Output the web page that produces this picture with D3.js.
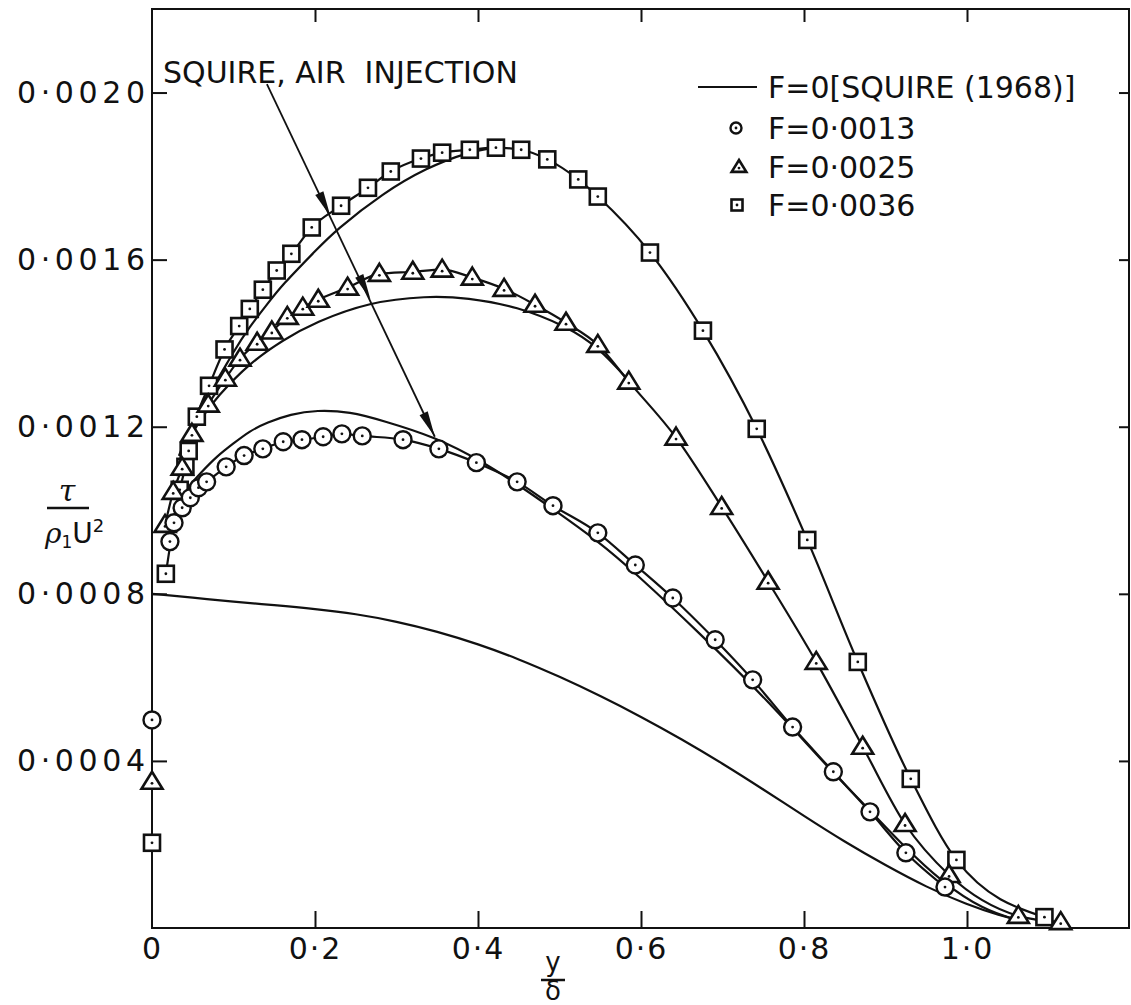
<!DOCTYPE html>
<html>
<head>
<meta charset="utf-8">
<script src="https://cdn.jsdelivr.net/npm/d3@7"></script>
<style>
  body { margin: 0; background: #fff; }
  svg { display: block; font-family: "DejaVu Sans", sans-serif; }
</style>
</head>
<body>
<svg id="chart" width="1131" height="1005"></svg>
<script>
// tick values and labels
const xTicks = [0, 0.2, 0.4, 0.6, 0.8, 1.0];
const xTickLabels = ['0', '0·2', '0·4', '0·6', '0·8', '1·0'];
const yTicks = [0.0004, 0.0008, 0.0012, 0.0016, 0.0020];
const yTickLabels = ['0·0004', '0·0008', '0·0012', '0·0016', '0·0020'];

// F = 0, Squire (1968)
const f0Curve = [
  [0, 0.00080], [0.05, 0.000791], [0.10, 0.000781], [0.15, 0.000773], [0.20, 0.000764],
  [0.25, 0.000752], [0.30, 0.000734], [0.35, 0.000710], [0.40, 0.000680], [0.45, 0.000644],
  [0.50, 0.000602], [0.55, 0.000556], [0.60, 0.000506], [0.65, 0.000452], [0.70, 0.000394],
  [0.75, 0.000332], [0.80, 0.000268], [0.85, 0.000206], [0.90, 0.000150], [0.95, 0.000098],
  [1.00, 0.000056], [1.04, 0.000030], [1.07, 0.000016]
];

// F = 0.0013 (circles)
const f13Wall = [0, 0.000498];
const f13Points = [
  [0.022, 0.000925], [0.027, 0.000970], [0.037, 0.001006], [0.047, 0.001030], [0.057, 0.001054],
  [0.067, 0.001068], [0.091, 0.001104], [0.113, 0.001131], [0.136, 0.001147], [0.161, 0.001164],
  [0.184, 0.001169], [0.210, 0.001176], [0.233, 0.001183], [0.258, 0.001178], [0.308, 0.001169],
  [0.352, 0.001147], [0.398, 0.001114], [0.448, 0.001068], [0.492, 0.001011], [0.547, 0.000946],
  [0.593, 0.000869], [0.639, 0.000790], [0.691, 0.000690], [0.737, 0.000594], [0.786, 0.000481],
  [0.836, 0.000374], [0.881, 0.000278], [0.925, 0.000180], [0.973, 0.000098]
];
const f13Theory = [
  [0.028, 0.00100], [0.044, 0.001056], [0.060, 0.00109], [0.080, 0.00113], [0.100, 0.00116],
  [0.120, 0.00119], [0.141, 0.00121], [0.170, 0.00123], [0.202, 0.001240], [0.243, 0.001236],
  [0.284, 0.001214], [0.347, 0.001176], [0.406, 0.001116], [0.450, 0.00106], [0.492, 0.001003],
  [0.550, 0.000922], [0.590, 0.000855], [0.672, 0.000706], [0.755, 0.000546], [0.836, 0.000370],
  [0.877, 0.000290], [0.920, 0.000200], [0.970, 0.000108], [1.020, 0.000044], [1.060, 0.000020]
];

// F = 0.0025 (triangles)
const f25Wall = [0, 0.000350];
const f25Points = [
  [0.016, 0.000965], [0.026, 0.001044], [0.037, 0.001102], [0.049, 0.001183], [0.069, 0.001253],
  [0.090, 0.001315], [0.108, 0.001363], [0.129, 0.001401], [0.147, 0.001428], [0.166, 0.001463],
  [0.185, 0.001485], [0.204, 0.001504], [0.240, 0.001533], [0.279, 0.001566], [0.320, 0.001571],
  [0.356, 0.001576], [0.393, 0.001557], [0.432, 0.001530], [0.470, 0.001492], [0.508, 0.001449],
  [0.547, 0.001396], [0.585, 0.001308], [0.643, 0.001174], [0.699, 0.001008], [0.756, 0.000829],
  [0.815, 0.000637], [0.872, 0.000434], [0.924, 0.000249], [0.978, 0.000127], [1.063, 0.000029],
  [1.115, 0.000014]
];
const f25Theory = [
  [0.028, 0.00109], [0.045, 0.00117], [0.059, 0.001217], [0.080, 0.001272], [0.120, 0.001353],
  [0.161, 0.001408], [0.200, 0.00145], [0.267, 0.001499], [0.337, 0.001513], [0.387, 0.001509],
  [0.448, 0.001488], [0.509, 0.001440], [0.547, 0.001392], [0.585, 0.001310]
];

// F = 0.0036 (squares)
const f36Wall = [0, 0.000204];
const f36Points = [
  [0.017, 0.000848], [0.034, 0.001049], [0.041, 0.001104], [0.045, 0.001142], [0.055, 0.001224],
  [0.070, 0.001298], [0.089, 0.001385], [0.107, 0.001441], [0.120, 0.001482], [0.136, 0.001528],
  [0.153, 0.001574], [0.171, 0.001614], [0.196, 0.001677], [0.232, 0.001729], [0.265, 0.001772],
  [0.293, 0.001811], [0.330, 0.001842], [0.356, 0.001856], [0.390, 0.001863], [0.422, 0.001868],
  [0.453, 0.001863], [0.485, 0.001840], [0.523, 0.001792], [0.547, 0.001751], [0.611, 0.001617],
  [0.676, 0.001430], [0.742, 0.001195], [0.804, 0.000929], [0.866, 0.000637], [0.931, 0.000357],
  [0.987, 0.000163], [1.095, 0.000026]
];
const f36Theory = [
  [0.033, 0.00113], [0.047, 0.00120], [0.059, 0.00125], [0.080, 0.00131], [0.100, 0.00138],
  [0.120, 0.00144], [0.140, 0.00149], [0.160, 0.00154], [0.200, 0.00162], [0.225, 0.00167],
  [0.284, 0.00176], [0.337, 0.00182], [0.387, 0.001857], [0.420, 0.001868]
];

// annotation arrow: start under the text, heads on the three theory curves
const arrowStart = [0.141, 0.00202];
const arrowTips = [[0.219, 0.001703], [0.268, 0.001505], [0.347, 0.001176]];

const legendLabels = ['F=0[SQUIRE (1968)]', 'F=0·0013', 'F=0·0025', 'F=0·0036'];

const ink = '#111';
const svg = d3.select('#chart');

const x = d3.scaleLinear().domain([0, 1.2]).range([152, 1130]);
const y = d3.scaleLinear().domain([0, 0.0022]).range([928, 9]);

// frame
svg.append('rect')
  .attr('x', x(0)).attr('y', y(0.0022))
  .attr('width', x(1.2) - x(0) - 1).attr('height', y(0) - y(0.0022))
  .attr('fill', 'none').attr('stroke', ink).attr('stroke-width', 2);

// axes
const xAxis = svg.append('g')
  .attr('transform', `translate(0,${y(0)})`)
  .call(d3.axisBottom(x).tickValues(xTicks).tickFormat((d, i) => xTickLabels[i])
    .tickSizeInner(-17).tickSizeOuter(0).tickPadding(10));
xAxis.select('.domain').remove();
xAxis.selectAll('.tick').filter(d => d === 0).select('line').remove();

const yAxis = svg.append('g')
  .attr('transform', `translate(${x(0)},0)`)
  .call(d3.axisLeft(y).tickValues(yTicks).tickFormat((d, i) => yTickLabels[i])
    .tickSizeInner(-15).tickSizeOuter(0).tickPadding(7));
yAxis.select('.domain').remove();

svg.append('g')
  .attr('transform', `translate(0,${y(0.0022)})`)
  .call(d3.axisTop(x).tickValues(xTicks.slice(1)).tickFormat('').tickSizeInner(-13).tickSizeOuter(0))
  .select('.domain').remove();

svg.append('g')
  .attr('transform', `translate(${x(1.2) - 1},0)`)
  .call(d3.axisRight(y).tickValues(yTicks).tickFormat('').tickSizeInner(-10).tickSizeOuter(0))
  .select('.domain').remove();

svg.selectAll('.tick line').attr('stroke', ink).attr('stroke-width', 2);
svg.selectAll('.tick text')
  .attr('fill', ink)
  .attr('font-size', 30)
  .attr('font-family', '"DejaVu Sans", sans-serif');
yAxis.selectAll('.tick text').attr('textLength', 128).attr('lengthAdjust', 'spacing');
xAxis.selectAll('.tick text').attr('letter-spacing', 2);

// curves
const smooth = d3.line().x(d => x(d[0])).y(d => y(d[1])).curve(d3.curveBasis);
const through = d3.line().x(d => x(d[0])).y(d => y(d[1])).curve(d3.curveMonotoneX);

const curves = svg.append('g').attr('fill', 'none').attr('stroke', ink).attr('stroke-width', 2.2);
[f0Curve, f13Theory, f25Theory, f36Theory].forEach(c => curves.append('path').attr('d', smooth(c)));
[f13Points, f25Points, f36Points].forEach(c => curves.append('path').attr('d', through(c)));

// symbols
function circleMark(g, cx, cy, r) {
  g.append('circle').attr('cx', cx).attr('cy', cy).attr('r', r)
    .attr('fill', '#fff').attr('stroke', ink).attr('stroke-width', 2.4);
  g.append('circle').attr('cx', cx).attr('cy', cy).attr('r', 1.4).attr('fill', ink);
}
function triMark(g, cx, cy, s) {
  g.append('path')
    .attr('d', `M${cx},${cy - s}L${cx + s * 1.05},${cy + s * 0.7}L${cx - s * 1.05},${cy + s * 0.7}Z`)
    .attr('fill', '#fff').attr('stroke', ink).attr('stroke-width', 2.6).attr('stroke-linejoin', 'miter');
  g.append('circle').attr('cx', cx).attr('cy', cy + s * 0.15).attr('r', 1.4).attr('fill', ink);
}
function squareMark(g, cx, cy, s) {
  g.append('rect').attr('x', cx - s / 2).attr('y', cy - s / 2).attr('width', s).attr('height', s)
    .attr('fill', '#fff').attr('stroke', ink).attr('stroke-width', 2.6);
  g.append('circle').attr('cx', cx).attr('cy', cy).attr('r', 1.4).attr('fill', ink);
}

const marks = svg.append('g');
[f36Wall, ...f36Points].forEach(d => squareMark(marks, x(d[0]), y(d[1]), 16));
[f25Wall, ...f25Points].forEach(d => triMark(marks, x(d[0]), y(d[1]), 10));
[f13Wall, ...f13Points].forEach(d => circleMark(marks, x(d[0]), y(d[1]), 8.5));

// annotation
svg.append('text')
  .attr('x', 163).attr('y', 83)
  .attr('font-size', 30).attr('fill', ink)
  .style('white-space', 'pre')
  .text('SQUIRE, AIR  INJECTION');

const ax0 = x(arrowStart[0]), ay0 = y(arrowStart[1]);
const last = arrowTips[arrowTips.length - 1];
const ax1 = x(last[0]), ay1 = y(last[1]);
svg.append('line').attr('x1', ax0).attr('y1', ay0).attr('x2', ax1).attr('y2', ay1)
  .attr('stroke', ink).attr('stroke-width', 1.8);
const len = Math.hypot(ax1 - ax0, ay1 - ay0);
const ux = (ax1 - ax0) / len, uy = (ay1 - ay0) / len;
arrowTips.forEach(t => {
  const tx = x(t[0]), ty = y(t[1]);
  const bx = tx - 26 * ux, by = ty - 26 * uy;
  svg.append('path')
    .attr('d', `M${tx},${ty}L${bx - 4.5 * uy},${by + 4.5 * ux}L${bx + 4.5 * uy},${by - 4.5 * ux}Z`)
    .attr('fill', ink);
});

// legend
const legend = svg.append('g').attr('font-size', 30).attr('fill', ink);
const rowY = [87, 128, 167, 205];
legend.append('line').attr('x1', 698).attr('x2', 757).attr('y1', rowY[0]).attr('y2', rowY[0])
  .attr('stroke', ink).attr('stroke-width', 2);
circleMark(legend, 736, rowY[1], 5.5);
triMark(legend, 739, rowY[2], 7);
squareMark(legend, 737, rowY[3], 11);
legendLabels.forEach((t, i) => {
  legend.append('text').attr('x', 768).attr('y', rowY[i] + 11).text(t);
});

// axis titles
const yTitle = svg.append('g').attr('fill', ink);
yTitle.append('text').attr('x', 67).attr('y', 501).attr('text-anchor', 'middle')
  .attr('font-family', '"DejaVu Serif", serif').attr('font-style', 'italic').attr('font-size', 30)
  .text('τ');
yTitle.append('line').attr('x1', 47).attr('x2', 89).attr('y1', 508).attr('y2', 508)
  .attr('stroke', ink).attr('stroke-width', 2.5);
const rhoText = yTitle.append('text').attr('x', 45).attr('y', 543).attr('font-size', 28);
rhoText.append('tspan').attr('font-family', '"DejaVu Serif", serif').attr('font-style', 'italic').text('ρ');
rhoText.append('tspan').attr('font-size', 17).attr('dy', 5).text('1');
rhoText.append('tspan').attr('dy', -5).text('U');
rhoText.append('tspan').attr('font-size', 18).attr('dy', -11).text('2');

const xTitle = svg.append('g').attr('fill', ink).attr('text-anchor', 'middle').attr('font-size', 26);
xTitle.append('text').attr('x', 553).attr('y', 971).text('y');
xTitle.append('line').attr('x1', 541).attr('x2', 565).attr('y1', 980).attr('y2', 980)
  .attr('stroke', ink).attr('stroke-width', 2.5);
xTitle.append('text').attr('x', 553).attr('y', 1000).text('δ');
</script>
</body>
</html>
